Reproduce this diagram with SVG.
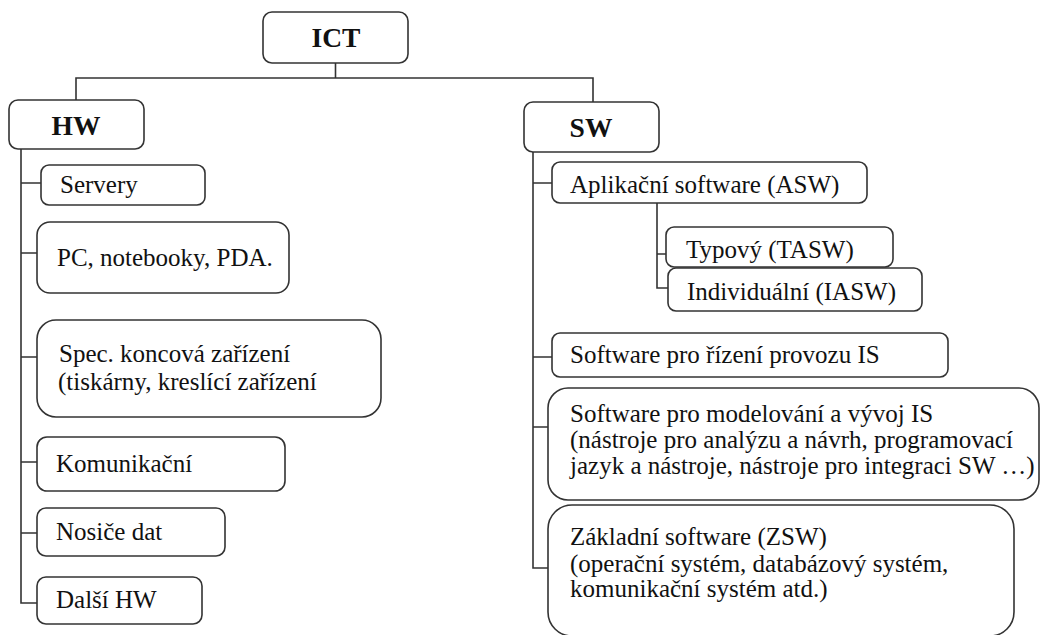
<svg xmlns="http://www.w3.org/2000/svg" width="1041" height="635" viewBox="0 0 1041 635">
<style>
rect{fill:#fff;stroke:#333;stroke-width:1.6}
.c path{fill:none;stroke:#333;stroke-width:1.6}
text{font-size:25px;fill:#111}
.b{font-weight:bold;font-size:27.5px;text-anchor:middle}
</style>
<rect x="0" y="0" width="1041" height="635" style="stroke:none"/>
<g class="c" id="connectors">
<path d="M335.5 63 V78 M76 102 V78 H593 V102"/>
<path d="M21 149 V603 H37 M21 183 H41 M21 253 H37 M21 357 H37 M21 462 H37 M21 533 H37"/>
<path d="M533 152 V568 H548 M533 183 H552 M533 357 H552 M533 427 H548"/>
<path d="M657 203 V288 H668 M657 254 H666"/>
</g>
<g font-family="'Liberation Serif', 'Tinos', 'DejaVu Serif', serif">
<g id="ict"><rect x="263" y="12" width="145" height="51" rx="9"/><text class="b" x="336" y="47">ICT</text></g>
<g id="hw"><rect x="9" y="100" width="135" height="49" rx="9"/><text class="b" x="76" y="135">HW</text></g>
<g id="sw"><rect x="524" y="102" width="135" height="50" rx="9"/><text class="b" x="591" y="137">SW</text></g>
<g id="servery"><rect x="41" y="165" width="164" height="40" rx="8"/><text x="60" y="193">Servery</text></g>
<g id="pc"><rect x="37" y="222" width="252" height="71" rx="13"/><text x="57" y="266">PC, notebooky, PDA.</text></g>
<g id="spec"><rect x="37" y="320" width="344" height="97" rx="19"/><text x="59" y="362">Spec. koncová zařízení</text><text x="58" y="390">(tiskárny, kreslící zařízení</text></g>
<g id="komunikacni"><rect x="37" y="437" width="248" height="54" rx="10"/><text x="56" y="472">Komunikační</text></g>
<g id="nosice"><rect x="37" y="508" width="188" height="48" rx="9"/><text x="56" y="540">Nosiče dat</text></g>
<g id="dalsi"><rect x="37" y="577" width="165" height="47" rx="9"/><text x="56" y="608">Další HW</text></g>
<g id="asw"><rect x="552" y="162" width="315" height="41" rx="8"/><text x="570" y="193">Aplikační software (ASW)</text></g>
<g id="tasw"><rect x="666" y="227" width="227" height="40" rx="8"/><text x="686" y="258">Typový (TASW)</text></g>
<g id="iasw"><rect x="668" y="268" width="254" height="43" rx="8"/><text x="687" y="300">Individuální (IASW)</text></g>
<g id="rizeni"><rect x="552" y="333" width="396" height="44" rx="8"/><text x="570" y="363">Software pro řízení provozu IS</text></g>
<g id="modelovani"><rect x="548" y="388" width="491" height="112" rx="20"/><text x="570" y="422">Software pro modelování a vývoj IS</text><text x="570" y="448">(nástroje pro analýzu a návrh, programovací</text><text x="570" y="474">jazyk a nástroje, nástroje pro integraci SW …)</text></g>
<g id="zakladni"><rect x="548" y="505" width="466" height="131" rx="24"/><text x="570" y="545">Základní software (ZSW)</text><text x="570" y="572">(operační systém, databázový systém,</text><text x="570" y="597">komunikační systém atd.)</text></g>
</g>
</svg>
